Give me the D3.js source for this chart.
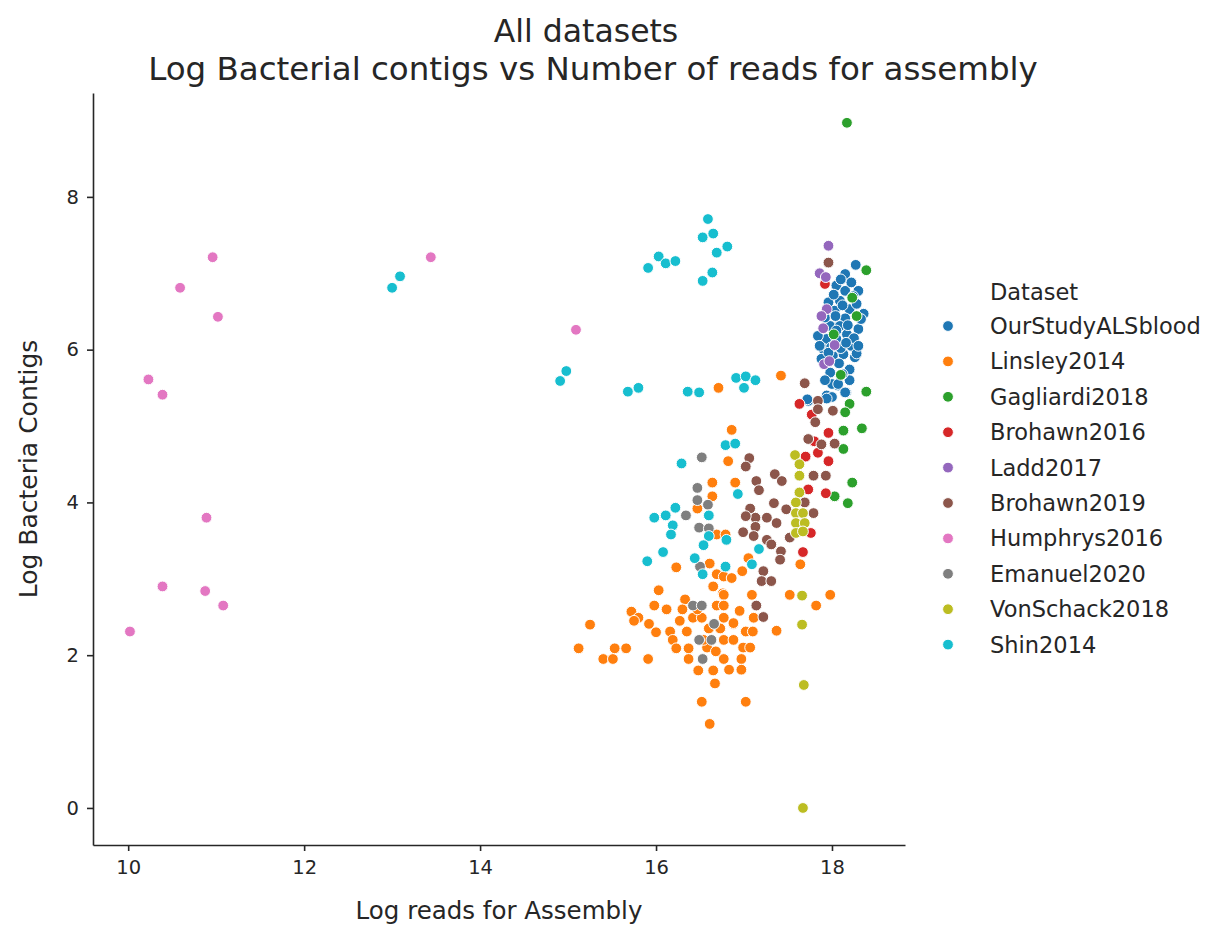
<!DOCTYPE html>
<html>
<head>
<meta charset="utf-8">
<script src="https://cdn.jsdelivr.net/npm/d3@7"></script>
<style>
  body { margin: 0; background: #fff; }
  text { font-family: "DejaVu Sans", sans-serif; fill: #262626; }
  .axis path, .axis line { stroke: #262626; stroke-width: 1.6; }
</style>
</head>
<body>
<svg width="1207" height="926"></svg>
<script>
// datasets in legend order
var datasets = ["OurStudyALSblood", "Linsley2014", "Gagliardi2018", "Brohawn2016", "Ladd2017",
                "Brohawn2019", "Humphrys2016", "Emanuel2020", "VonSchack2018", "Shin2014"];
var colors = ["#1f77b4", "#ff7f0e", "#2ca02c", "#d62728", "#9467bd",
              "#8c564b", "#e377c2", "#7f7f7f", "#bcbd22", "#17becf"];

var xTicks = [10, 12, 14, 16, 18];
var yTicks = [0, 2, 4, 6, 8];

// [log reads, log contigs]
var ourStudy = [[18.27,7.11],[18.15,6.99],[18.05,6.84],[18.15,6.77],[18.30,6.77],[18.09,6.64],[18.20,6.53],
  [18.36,6.47],[18.03,6.51],[18.15,6.41],[17.98,6.31],[18.09,6.31],[18.30,6.27],[18.17,6.20],[17.94,6.14],
  [18.05,6.14],[18.22,6.05],[17.90,6.01],[18.13,5.94],[18.01,5.92],[18.26,5.90],[17.94,5.84],[18.20,5.74],
  [17.98,5.70],[18.07,5.53],[18.16,5.44],[18.00,5.55],[17.94,5.40],[17.73,5.33],[18.00,5.38],[17.84,6.18],
  [17.86,6.05],[17.88,5.88],[18.10,6.02],[18.25,6.15],[18.33,6.40],[18.12,6.58],[17.96,6.62],[18.22,6.88],
  [18.10,6.92],[18.02,6.72],[18.28,6.60],[17.92,6.42],[18.05,6.25],[18.18,6.32],[18.28,5.95],[18.08,5.82],
  [18.20,5.60],[17.92,5.60],[18.12,5.68],[17.72,5.35],[17.94,5.36],[18.15,5.44],[18.07,5.55],[18.04,6.44],
  [18.24,6.70],[17.99,6.03],[18.16,6.09],[17.96,5.96],[18.30,6.05]];
var linsley = [[17.42,5.66],[16.71,5.50],[16.86,4.95],[16.82,4.54],[16.90,4.26],[17.64,3.19],[16.64,4.26],
  [16.64,4.08],[16.47,3.92],[16.69,3.58],[16.79,3.58],[16.23,3.15],[16.61,3.20],[16.69,3.06],[16.77,3.03],
  [16.65,2.90],[16.76,2.81],[16.03,2.85],[17.52,2.79],[17.98,2.79],[17.82,2.65],[17.37,2.32],[17.09,2.79],
  [16.98,3.10],[16.86,3.01],[17.05,3.27],[15.25,2.40],[15.98,2.65],[15.72,2.57],[15.80,2.49],[15.92,2.41],
  [16.00,2.30],[15.12,2.09],[15.40,1.95],[15.51,1.95],[15.53,2.09],[15.66,2.09],[15.91,1.95],[16.16,2.31],
  [16.35,2.31],[16.19,2.20],[16.23,2.09],[16.37,2.09],[16.37,1.95],[16.42,2.49],[16.52,2.49],[16.33,2.73],
  [16.69,2.65],[16.77,2.79],[16.88,2.41],[16.77,2.20],[16.77,1.95],[16.65,1.80],[16.67,1.63],[16.48,1.80],
  [16.52,1.39],[16.61,1.10],[16.95,2.58],[16.88,2.42],[17.11,2.49],[17.02,2.31],[17.10,2.31],[16.99,2.10],
  [17.07,2.10],[16.97,1.95],[16.97,1.81],[17.02,1.39],[16.77,2.65],[16.77,2.49],[16.60,2.35],[16.58,2.10],
  [16.30,2.60],[16.47,2.60],[16.27,2.45],[16.83,1.81],[16.12,2.60],[15.75,2.45],[16.54,2.20],[16.68,2.05],
  [16.88,2.20],[16.73,2.35]];
var gagliardi = [[18.17,8.97],[18.39,7.04],[18.23,6.68],[18.28,6.44],[18.10,5.67],[18.39,5.45],[18.20,5.29],
  [18.15,5.18],[18.13,4.94],[18.34,4.97],[18.13,4.70],[18.23,4.26],[18.03,4.08],[18.18,3.99],[18.02,6.20]];
var brohawn2016 = [[17.92,6.86],[17.63,5.29],[17.77,5.15],[17.96,4.91],[17.70,4.60],[17.84,4.65],[17.96,4.54],
  [17.73,4.17],[17.93,4.12],[17.76,3.60],[17.67,3.35],[17.80,4.80]];
var ladd = [[17.96,7.36],[17.86,7.00],[17.93,6.95],[17.94,6.53],[17.88,6.44],[17.90,6.28],[18.03,6.06],
  [17.91,5.81],[17.97,5.85]];
var brohawn2019 = [[17.96,7.14],[17.69,5.56],[17.84,5.33],[18.01,5.20],[17.81,5.05],[17.84,5.22],[17.73,4.83],
  [17.88,4.76],[18.03,4.77],[17.06,4.58],[17.02,4.47],[17.35,4.37],[17.43,4.28],[17.14,4.28],[17.17,4.16],
  [17.79,4.35],[17.93,4.35],[17.34,3.99],[17.48,3.91],[17.07,3.92],[17.13,3.80],[17.26,3.80],[17.37,3.73],
  [17.02,3.82],[16.99,3.61],[17.13,3.68],[17.11,3.56],[17.26,3.51],[17.31,3.45],[17.42,3.36],[17.41,3.25],
  [17.79,3.86],[17.69,4.00],[17.52,3.54],[17.22,3.10],[17.20,2.97],[17.31,2.97],[17.14,2.65],[17.22,2.50]];
var humphrys = [[10.96,7.21],[10.59,6.81],[11.02,6.43],[10.23,5.61],[10.39,5.41],[10.89,3.80],[10.39,2.90],
  [10.875,2.84],[11.08,2.65],[10.02,2.31],[13.44,7.21],[15.09,6.26]];
var emanuel = [[16.52,4.59],[16.47,4.19],[16.47,4.03],[16.59,3.97],[16.34,3.83],[16.49,3.67],[16.60,3.66],
  [16.50,3.16],[16.42,2.65],[16.52,2.65],[16.66,2.41],[16.49,2.20],[16.63,2.20],[16.53,1.95]];
var vonSchack = [[17.58,4.62],[17.63,4.50],[17.63,4.35],[17.63,4.13],[17.59,4.00],[17.59,3.86],[17.67,3.86],
  [17.59,3.73],[17.69,3.73],[17.59,3.60],[17.67,3.62],[17.66,2.78],[17.66,2.40],[17.68,1.61],[17.67,0.0]];
var shin = [[13.09,6.96],[13.00,6.81],[16.59,7.71],[16.53,7.47],[16.65,7.52],[16.69,7.27],[16.81,7.35],
  [16.64,7.01],[16.53,6.90],[16.03,7.22],[16.11,7.13],[16.22,7.16],[15.91,7.07],[14.98,5.72],[14.91,5.59],
  [15.68,5.45],[15.80,5.50],[16.36,5.45],[16.49,5.44],[16.91,5.63],[17.02,5.65],[17.13,5.60],[17.00,5.50],
  [16.79,4.75],[16.90,4.77],[16.29,4.51],[16.22,3.93],[15.98,3.80],[16.11,3.83],[16.19,3.70],[16.17,3.58],
  [16.08,3.35],[15.90,3.23],[16.60,3.83],[16.60,3.56],[16.54,3.44],[16.44,3.27],[16.53,3.06],[16.80,3.51],
  [16.79,3.16],[16.93,4.11],[17.17,3.39],[17.09,3.19]];

var seriesValues = [ourStudy, linsley, gagliardi, brohawn2016, ladd, brohawn2019, humphrys, emanuel, vonSchack, shin];

var svg = d3.select("svg"),
    margin = { top: 93, right: 302, bottom: 81, left: 93 },
    width = +svg.attr("width") - margin.left - margin.right,
    height = +svg.attr("height") - margin.top - margin.bottom;

var x = d3.scaleLinear().domain([9.6, 18.83]).range([0, width]);
var y = d3.scaleLinear().domain([-0.485, 9.36]).range([height, 0]);
var color = d3.scaleOrdinal().domain(datasets).range(colors);

var g = svg.append("g")
    .attr("transform", "translate(" + margin.left + "," + margin.top + ")");

g.append("g")
    .attr("class", "axis")
    .attr("transform", "translate(0," + height + ")")
    .call(d3.axisBottom(x).tickValues(xTicks).tickSize(6).tickPadding(9).tickSizeOuter(0))
    .call(a => a.selectAll("text").style("font-size", "19.5px"));

g.append("g")
    .attr("class", "axis")
    .call(d3.axisLeft(y).tickValues(yTicks).tickSize(6).tickPadding(8).tickSizeOuter(0))
    .call(a => a.selectAll("text").style("font-size", "19.5px"));

// points, one group per dataset
datasets.forEach(function (name, i) {
    g.append("g").selectAll("circle")
        .data(seriesValues[i])
        .enter()
      .append("circle")
        .attr("cx", d => x(d[0]))
        .attr("cy", d => y(d[1]))
        .attr("r", 5.4)
        .attr("fill", color(name))
        .attr("stroke", "#fff")
        .attr("stroke-width", 1);
});

g.append("text")
    .attr("x", width / 2)
    .attr("y", height + 74)
    .attr("text-anchor", "middle")
    .style("font-size", "24.5px")
    .text("Log reads for Assembly");

g.append("text")
    .attr("transform", "rotate(-90)")
    .attr("x", -height / 2)
    .attr("y", -56)
    .attr("text-anchor", "middle")
    .style("font-size", "25px")
    .text("Log Bacteria Contigs");

// title
svg.append("text")
    .attr("x", 586).attr("y", 42)
    .attr("text-anchor", "middle")
    .style("font-size", "31.5px")
    .text("All datasets");
svg.append("text")
    .attr("x", 593).attr("y", 80)
    .attr("text-anchor", "middle")
    .style("font-size", "32.5px")
    .text("Log Bacterial contigs vs Number of reads for assembly");

// legend
var legend = svg.append("g").attr("transform", "translate(948,0)");
legend.append("text")
    .attr("x", 42).attr("y", 300)
    .style("font-size", "22.5px")
    .text("Dataset");
var item = legend.selectAll(".item")
    .data(datasets)
    .enter()
  .append("g")
    .attr("transform", (d, i) => "translate(0," + (326 + i * 35.4) + ")");
item.append("circle")
    .attr("r", 5.4)
    .attr("fill", d => color(d))
    .attr("stroke", "#fff")
    .attr("stroke-width", 1);
item.append("text")
    .attr("x", 42).attr("y", 8)
    .style("font-size", "22.5px")
    .text(d => d);
</script>
</body>
</html>
